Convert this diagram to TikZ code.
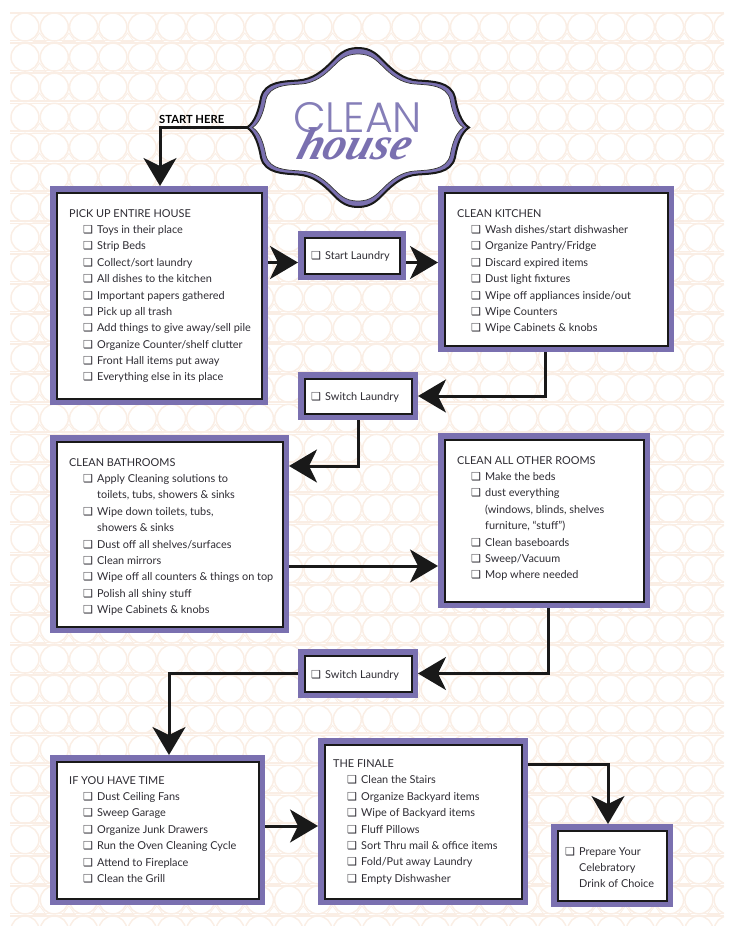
\documentclass[tikz,border=0pt]{standalone}
\usepackage{fontspec}
\setmainfont{Lato}
\newfontfamily\symfont{DejaVu Sans}
\newfontfamily\titlefont{Poppins Light}
\newfontfamily\housefont{Liberation Serif}
\usetikzlibrary{arrows.meta}
\definecolor{framepurple}{HTML}{7A70B0}
\definecolor{titlepurple}{HTML}{857EB8}
\definecolor{latticepeach}{HTML}{FAEEE5}
\definecolor{inkgrey}{HTML}{2E2C33}
\newcommand{\chk}{\makebox[14pt][l]{\symfont\fontsize{11}{11}\selectfont ❑}}
\newcommand{\itm}{\hspace*{14pt}\chk}
\newcommand{\cnt}{\hspace*{28pt}}
\newcommand{\plaquepath}{(0,-79.5) .. controls (14,-79.5) and (20,-72) .. (27,-65)
    .. controls (35,-57) and (45,-48) .. (60,-47) .. controls (75,-46) and (93,-46) .. (97,-30)
    .. controls (99,-18) and (103,-5) .. (111,0) .. controls (103,5) and (99,18) .. (97,30)
    .. controls (93,46) and (75,46) .. (60,47) .. controls (45,48) and (35,57) .. (27,65)
    .. controls (20,72) and (14,79.5) .. (0,79.5) .. controls (-14,79.5) and (-20,72) .. (-27,65)
    .. controls (-35,57) and (-45,48) .. (-60,47) .. controls (-75,46) and (-93,46) .. (-97,30)
    .. controls (-99,18) and (-103,5) .. (-111,0) .. controls (-103,-5) and (-99,-18) .. (-97,-30)
    .. controls (-93,-46) and (-75,-46) .. (-60,-47) .. controls (-45,-48) and (-35,-57) .. (-27,-65)
    .. controls (-20,-72) and (-14,-79.5) .. (0,-79.5) -- cycle}
\tikzset{
    >={Stealth[length=28pt,width=33pt,inset=8pt]},
    flow/.style={->, line width=3pt, draw=black!90},
    framebox/.style={draw=black!90, line width=2pt, fill=white, anchor=center, inner sep=0pt, outer sep=6.5pt,
        preaction={draw=framepurple, line width=13pt}},
    listtext/.style={anchor=north west, inner sep=0pt, align=left, text=inkgrey,
        font=\fontsize{10.9}{16.38}\selectfont},
    lattice/.style={draw=latticepeach, line width=1.5pt},
}
\begin{document}
\begin{tikzpicture}[x=1pt, y=-1pt]
    \useasboundingbox (0,0) rectangle (736,946);
    % backdrop
    \begin{scope}
        \clip (10,11) rectangle (724,925);
        \foreach \i in {0,...,24} \foreach \j in {0,...,30} {
            \draw[lattice] (25+29.3*\i,27+30.1*\j) circle (14);
            \draw[lattice, line width=0.8pt] (39.6+29.3*\i,33+30.1*\j) -- (46+29.3*\i,41.6+30.1*\j) -- (33.2+29.3*\i,41.6+30.1*\j) -- cycle;
        }
        \foreach \j in {0,...,30} {
            \draw[lattice] (10,10.5+30.1*\j) -- (724,10.5+30.1*\j);
            \draw[lattice] (10,13+30.1*\j) -- (724,13+30.1*\j);
        }
    \end{scope}
    % plaque
    \begin{scope}[shift={(358,127.5)}]
        \draw[fill=framepurple, draw=black!90, line width=2pt] \plaquepath;
        \draw[fill=white, draw=black!80, line width=0.7pt, xscale=0.95, yscale=0.925] \plaquepath;
    \end{scope}
    \coordinate (plaqueleft) at (248,127);
    \node[text=titlepurple, font=\titlefont\fontsize{42.5}{42}\selectfont, inner sep=0pt] (cleantitle) at (357.5,118) {CLEAN};
    \node[text=framepurple, font=\housefont\bfseries\itshape\fontsize{46}{46}\selectfont, inner sep=0pt, xslant=0.3] (housetitle) at (356,144) {house};
    % boxes
    \node[framebox, minimum width=205pt, minimum height=206pt] (pickup) at (159,295.5) {};
    \node[framebox, minimum width=223pt, minimum height=153pt] (kitchen) at (556,269) {};
    \node[framebox, minimum width=95pt, minimum height=36pt] (startlaundry) at (352,255.5) {};
    \node[framebox, minimum width=107pt, minimum height=35pt] (switchone) at (358,396) {};
    \node[framebox, minimum width=226pt, minimum height=185pt] (bathrooms) at (169.5,534) {};
    \node[framebox, minimum width=199pt, minimum height=162pt] (otherrooms) at (544,520.5) {};
    \node[framebox, minimum width=107pt, minimum height=36pt] (switchtwo) at (358,673.5) {};
    \node[framebox, minimum width=202pt, minimum height=137pt] (ifyouhave) at (157.5,830) {};
    \node[framebox, minimum width=197pt, minimum height=154pt] (finale) at (423,821.5) {};
    \node[framebox, minimum width=109pt, minimum height=70pt] (celebrate) at (612,865.5) {};
    % lists
    \node[listtext] (pickuptext) at (69,209) {PICK UP ENTIRE HOUSE\\
        \itm Toys in their place\\ \itm Strip Beds\\ \itm Collect/sort laundry\\
        \itm All dishes to the kitchen\\ \itm Important papers gathered\\ \itm Pick up all trash\\
        \itm Add things to give away/sell pile\\ \itm Organize Counter/shelf clutter\\
        \itm Front Hall items put away\\ \itm Everything else in its place};
    \node[listtext] (kitchentext) at (457,209) {CLEAN KITCHEN\\
        \itm Wash dishes/start dishwasher\\ \itm Organize Pantry/Fridge\\ \itm Discard expired items\\
        \itm Dust light fixtures\\ \itm Wipe off appliances inside/out\\ \itm Wipe Counters\\
        \itm Wipe Cabinets \& knobs};
    \node[listtext] (startlabel) at (311,251.5) {\chk Start Laundry};
    \node[listtext] (switchonelabel) at (311,392) {\chk Switch Laundry};
    \node[listtext] (bathtext) at (69,458) {CLEAN BATHROOMS\\
        \itm Apply Cleaning solutions to\\ \cnt toilets, tubs, showers \& sinks\\
        \itm Wipe down toilets, tubs,\\ \cnt showers \& sinks\\ \itm Dust off all shelves/surfaces\\
        \itm Clean mirrors\\ \itm Wipe off all counters \& things on top\\ \itm Polish all shiny stuff\\
        \itm Wipe Cabinets \& knobs};
    \node[listtext] (othertext) at (457,456) {CLEAN ALL OTHER ROOMS\\
        \itm Make the beds\\ \itm dust everything\\ \cnt (windows, blinds, shelves\\
        \cnt furniture, “stuff”)\\ \itm Clean baseboards\\ \itm Sweep/Vacuum\\ \itm Mop where needed};
    \node[listtext] (switchtwolabel) at (311,670) {\chk Switch Laundry};
    \node[listtext] (ifyouhavetext) at (69,776) {IF YOU HAVE TIME\\
        \itm Dust Ceiling Fans\\ \itm Sweep Garage\\ \itm Organize Junk Drawers\\
        \itm Run the Oven Cleaning Cycle\\ \itm Attend to Fireplace\\ \itm Clean the Grill};
    \node[listtext] (finaletext) at (333,759.5) {THE FINALE\\
        \itm Clean the Stairs\\ \itm Organize Backyard items\\ \itm Wipe of Backyard items\\
        \itm Fluff Pillows\\ \itm Sort Thru mail \& office items\\ \itm Fold/Put away Laundry\\
        \itm Empty Dishwasher};
    \node[listtext] (celebratetext) at (565,847) {\chk Prepare Your\\ \hspace*{14pt}Celebratory\\ \hspace*{14pt}Drink of Choice};
    \node[anchor=base west, inner sep=0pt, font=\bfseries\fontsize{11.2}{12}\selectfont] (starthere) at (159,123) {START HERE};
    % connectors
    \coordinate (startcorner) at (160,127);
    \coordinate (laundryline) at ([yshift=-7pt]startlaundry.center);
    \draw[flow] (plaqueleft) -- (startcorner) -- (startcorner |- pickup.north);
    \draw[flow] (pickup.east |- laundryline) -- (startlaundry.west |- laundryline);
    \draw[flow] (startlaundry.east |- laundryline) -- (kitchen.west |- laundryline);
    \draw[flow] ([xshift=-11pt]kitchen.south) |- (switchone);
    \draw[flow] (switchone.south) |- ([yshift=68pt]bathrooms.east);
    \draw[flow] ([yshift=-32pt]bathrooms.east) -- ([yshift=-32pt]bathrooms.east -| otherrooms.west);
    \draw[flow] ([xshift=4pt]otherrooms.south) |- (switchtwo);
    \draw[flow] (switchtwo) -| ([xshift=11.5pt]ifyouhave.north);
    \draw[flow] ([yshift=4pt]ifyouhave.east) -- ([yshift=4pt]ifyouhave.east -| finale.west);
    \draw[flow] ([yshift=57pt]finale.east) -| ([xshift=-4pt]celebrate.north);
\end{tikzpicture}
\end{document}
